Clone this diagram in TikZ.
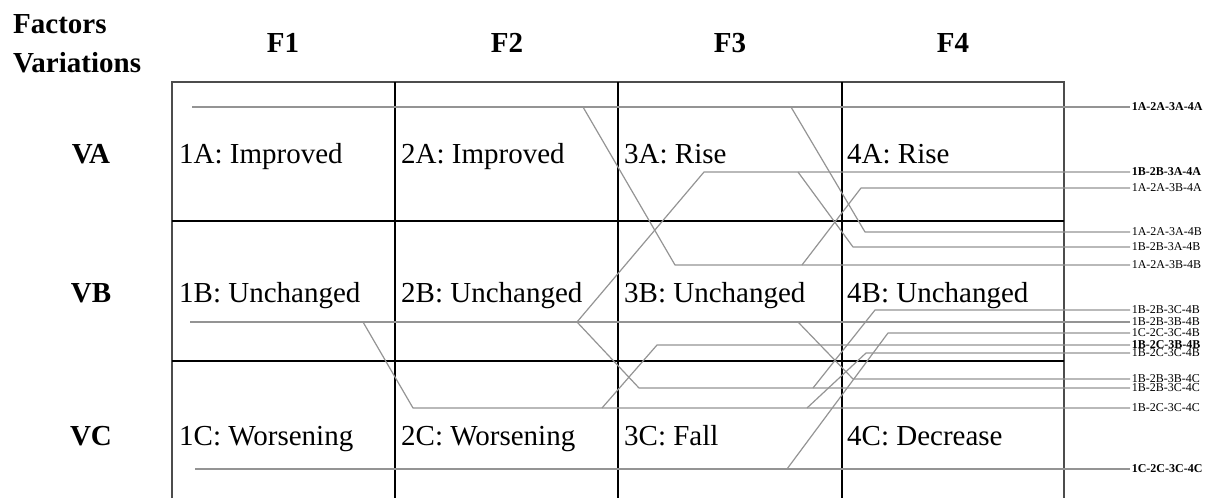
\documentclass[tikz,border=0pt]{standalone}
\usepackage{fontspec}
\setmainfont{Liberation Serif}
\begin{document}
\begin{tikzpicture}[x=1pt,y=-1pt,
  frame/.style={draw=black!70, line width=1.6pt},
  gridline/.style={draw=black, line width=1.1pt},
  route/.style={draw=black!42, line width=1.2pt, line join=round},
  cell/.style={font=\fontsize{29}{34}\selectfont, inner sep=0pt, anchor=base west},
  head/.style={font=\fontsize{29}{34}\selectfont\bfseries, inner sep=0pt},
  tag/.style={font=\fontsize{12}{13}\selectfont, inner sep=1.6pt, anchor=west},
  boldtag/.style={tag, font=\fontsize{12}{13}\selectfont\bfseries}
]
\useasboundingbox (0,0) rectangle (1215,498);

% table frame and cell borders
\draw[frame] (172,498) -- (172,82) -- (1064,82) -- (1064,498);
\foreach \x in {395,618,842} \draw[gridline] (\x,82) -- (\x,498);
\foreach \y in {221,361} \draw[gridline] (172,\y) -- (1064,\y);

% headers
\node[head, anchor=base west] (hfac) at (13,33) {Factors};
\node[head, anchor=base west] (hvar) at (13,72) {Variations};
\node[head, anchor=base] (f1) at (283,52) {F1};
\node[head, anchor=base] (f2) at (507,52) {F2};
\node[head, anchor=base] (f3) at (730,52) {F3};
\node[head, anchor=base] (f4) at (953,52) {F4};
\node[head, anchor=base] (va) at (91,163) {VA};
\node[head, anchor=base] (vb) at (91,302) {VB};
\node[head, anchor=base] (vc) at (91,445) {VC};

% cell texts
\node[cell] (c1A) at (179,163) {1A: Improved};
\node[cell] (c2A) at (401,163) {2A: Improved};
\node[cell] (c3A) at (624,163) {3A: Rise};
\node[cell] (c4A) at (847,163) {4A: Rise};
\node[cell] (c1B) at (179,302) {1B: Unchanged};
\node[cell] (c2B) at (401,302) {2B: Unchanged};
\node[cell] (c3B) at (624,302) {3B: Unchanged};
\node[cell] (c4B) at (847,302) {4B: Unchanged};
\node[cell] (c1C) at (179,445) {1C: Worsening};
\node[cell] (c2C) at (401,445) {2C: Worsening};
\node[cell] (c3C) at (624,445) {3C: Fall};
\node[cell] (c4C) at (847,445) {4C: Decrease};

% path labels on the right
\node[boldtag] (r1)  at (1130,107) {1A-2A-3A-4A};
\node[boldtag] (r2)  at (1130,172) {1B-2B-3A-4A};
\node[tag]     (r3)  at (1130,188) {1A-2A-3B-4A};
\node[tag]     (r4)  at (1130,232) {1A-2A-3A-4B};
\node[tag]     (r5)  at (1130,247) {1B-2B-3A-4B};
\node[tag]     (r6)  at (1130,265) {1A-2A-3B-4B};
\node[tag]     (r7)  at (1130,310) {1B-2B-3C-4B};
\node[tag]     (r8)  at (1130,322) {1B-2B-3B-4B};
\node[tag]     (r9)  at (1130,333) {1C-2C-3C-4B};
\node[boldtag] (r10) at (1130,345) {1B-2C-3B-4B};
\node[tag]     (r11) at (1130,353) {1B-2C-3C-4B};
\node[tag]     (r12) at (1130,379) {1B-2B-3B-4C};
\node[tag]     (r13) at (1130,388) {1B-2B-3C-4C};
\node[tag]     (r14) at (1130,408) {1B-2C-3C-4C};
\node[boldtag] (r15) at (1130,469) {1C-2C-3C-4C};

% start points of the three trunks
\coordinate (s1A) at (192,107);
\coordinate (s1B) at (190,322);
\coordinate (s1C) at (195,469);

% branch and bend points
\coordinate (a1) at (583,107);  \coordinate (a2) at (675,265);
\coordinate (a3) at (802,265);  \coordinate (a4) at (861,188);
\coordinate (a5) at (791,107);  \coordinate (a6) at (865,232);
\coordinate (b1) at (363,322);  \coordinate (b2) at (413,408);
\coordinate (b3) at (577,322);  \coordinate (b4) at (704,172);
\coordinate (b5) at (639,388);
\coordinate (b6) at (798,172);  \coordinate (b7) at (853,247);
\coordinate (b8) at (798,322);  \coordinate (b9) at (853,379);
\coordinate (b10) at (813,388); \coordinate (b11) at (875,310);
\coordinate (b12) at (602,408); \coordinate (b13) at (657,345);
\coordinate (b14) at (807,408); \coordinate (b15) at (866,353);
\coordinate (c1) at (787,469);  \coordinate (c2) at (888,333);

% routes
\draw[route] (s1A) -- (r1.west);
\draw[route] (a1) -- (a2) -- (r6.west);
\draw[route] (a3) -- (a4) -- (r3.west);
\draw[route] (a5) -- (a6) -- (r4.west);
\draw[route] (s1B) -- (r8.west);
\draw[route] (b1) -- (b2) -- (r14.west);
\draw[route] (b3) -- (b4) -- (r2.west);
\draw[route] (b3) -- (b5) -- (r13.west);
\draw[route] (b6) -- (b7) -- (r5.west);
\draw[route] (b8) -- (b9) -- (r12.west);
\draw[route] (b10) -- (b11) -- (r7.west);
\draw[route] (b12) -- (b13) -- (r10.west);
\draw[route] (b14) -- (b15) -- (r11.west);
\draw[route] (s1C) -- (r15.west);
\draw[route] (c1) -- (c2) -- (r9.west);
\end{tikzpicture}
\end{document}
